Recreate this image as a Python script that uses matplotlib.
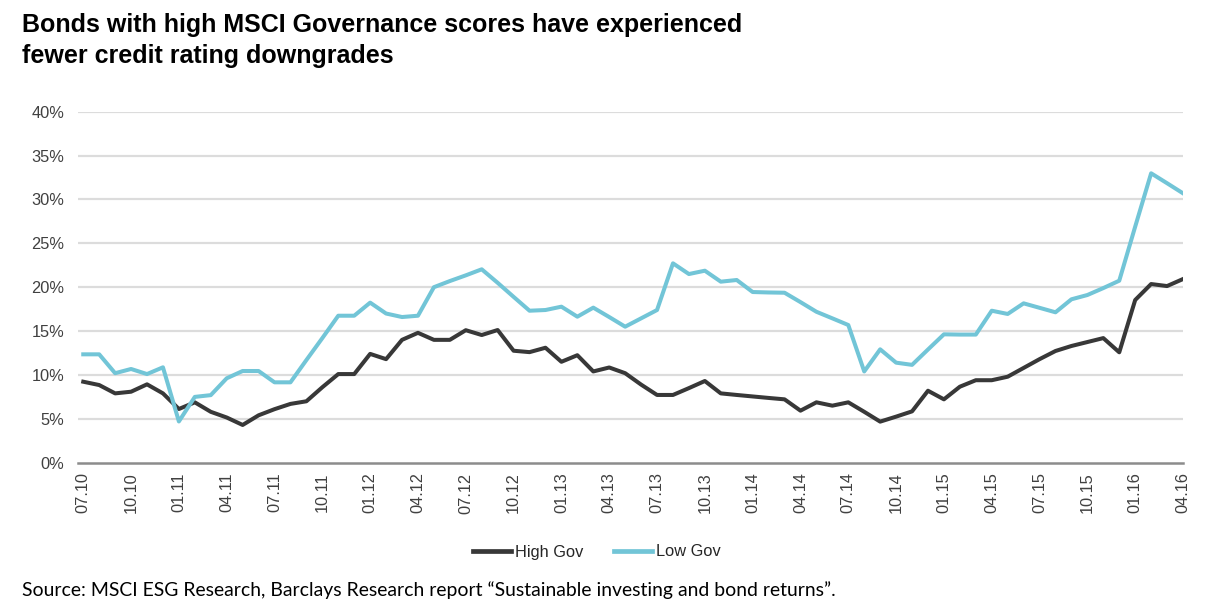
import matplotlib
matplotlib.use("Agg")
import matplotlib.pyplot as plt
from matplotlib.ticker import FixedLocator, FuncFormatter

# ---- data ----
tick_labels = ["07.10", "10.10", "01.11", "04.11", "07.11", "10.11", "01.12", "04.12",
               "07.12", "10.12", "01.13", "04.13", "07.13", "10.13", "01.14", "04.14",
               "07.14", "10.14", "01.15", "04.15", "07.15", "10.15", "01.16", "04.16"]

high_gov = [9.23, 8.85, 7.9, 8.09, 8.93, 7.9, 6.12, 6.88, 5.8, 5.15,
            4.3, 5.4, 6.1, 6.7, 7.0, 8.6, 10.1, 10.1, 12.4, 11.8,
            14.0, 14.8, 14.0, 14.0, 15.1, 14.55, 15.12, 12.76, 12.6, 13.1,
            11.5, 12.25, 10.4, 10.85, 10.2, 8.9, 7.72, 7.72, 8.5, 9.31,
            7.9, 7.72, 7.55, 7.38, 7.22, 5.93, 6.88, 6.5, 6.88, 5.8,
            4.68, 5.25, 5.85, 8.2, 7.22, 8.66, 9.4, 9.4, 9.8, 10.8,
            11.8, 12.73, 13.3, 13.75, 14.2, 12.58, 18.54, 20.36, 20.13, 20.93]

low_gov = [12.35, 12.35, 10.2, 10.68, 10.1, 10.87, 4.7, 7.5, 7.7, 9.62,
           10.45, 10.45, 9.16, 9.16, 11.7, 14.2, 16.75, 16.75, 18.24, 17.0,
           16.6, 16.75, 20.0, 20.7, 21.35, 22.04, 20.5, 18.9, 17.32, 17.4,
           17.78, 16.64, 17.67, 16.6, 15.5, 16.45, 17.4, 22.72, 21.5, 21.88,
           20.63, 20.82, 19.45, 19.4, 19.37, 18.3, 17.2, 16.45, 15.69, 10.4,
           12.92, 11.4, 11.15, 12.9, 14.63, 14.6, 14.6, 17.32, 16.95, 18.16,
           17.65, 17.14, 18.62, 19.11, 19.9, 20.74, 26.9, 32.98, 31.85, 30.7]

series_names = ["High Gov", "Low Gov"]
y_ticks = [0, 5, 10, 15, 20, 25, 30, 35, 40]

# ---- style ----
W, H = 1205, 614
plt.rcParams["font.family"] = ["Liberation Sans", "DejaVu Sans"]
fig = plt.figure(figsize=(W / 100, H / 100), dpi=100)

ax = fig.add_axes([78 / W, (H - 462.7) / H, (1183 - 78) / W, (462.7 - 111.7) / H])

x = list(range(len(high_gov)))
dark = "#383838"
blue = "#72C5D7"
ax.plot(x, high_gov, color=dark, lw=2.9, solid_joinstyle="round", label=series_names[0], zorder=3)
ax.plot(x, low_gov, color=blue, lw=2.9, solid_joinstyle="round", label=series_names[1], zorder=3)

ax.set_xlim(-0.33, len(x) - 1)
ax.set_ylim(0, 40)

ax.yaxis.set_major_locator(FixedLocator(y_ticks))
ax.yaxis.set_major_formatter(FuncFormatter(lambda v, p: f"{int(v)}%"))
for yv in y_ticks[1:]:
    ax.axhline(yv, color="#dcdcdc", lw=1.6, zorder=1)

xt = list(range(0, len(x), 3))
ax.set_xticks(xt)
ax.set_xticklabels(tick_labels, rotation=90)

for s in ["top", "right", "left"]:
    ax.spines[s].set_visible(False)
ax.spines["bottom"].set_color("#8c8c8c")
ax.spines["bottom"].set_linewidth(1.8)
ax.spines["bottom"].set_zorder(4)

ax.tick_params(axis="both", length=0, labelsize=11.8, colors="#404040")
ax.tick_params(axis="y", pad=10)
ax.tick_params(axis="x", pad=7)

leg = fig.legend(loc="center", bbox_to_anchor=(597 / W, (H - 552) / H), ncol=2, frameon=False,
                 fontsize=11.8, handlelength=2.3, columnspacing=1.9, handletextpad=0.25,
                 labelcolor="#262626")
for h in leg.get_lines():
    h.set_linewidth(3.4)

fig.text(22 / W, 1 - 13 / H,
         "Bonds with high MSCI Governance scores have experienced\nfewer credit rating downgrades",
         ha="left", va="top", fontsize=18, fontweight="bold", color="#000000",
         linespacing=1.38)

fig.text(22 / W, (H - 590) / H,
         "Source: MSCI ESG Research, Barclays Research report \u201cSustainable investing and bond returns\u201d.",
         ha="left", va="center", fontsize=13.95, family=["Lato", "DejaVu Sans"], color="#000000")

fig.savefig("out.png", dpi=100, facecolor="white")
